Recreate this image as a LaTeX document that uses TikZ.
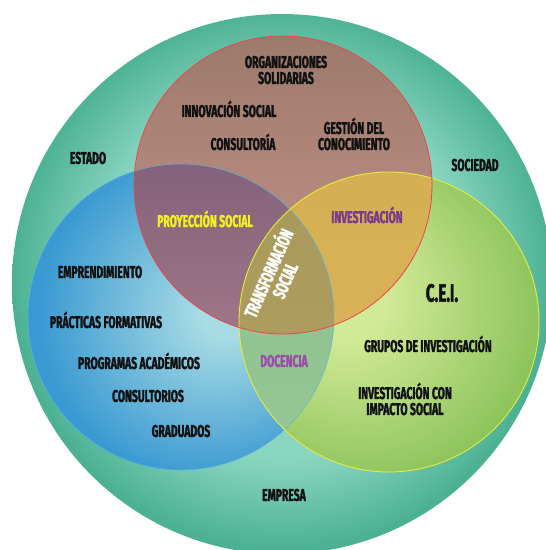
\documentclass[tikz,border=0pt]{standalone}
\usepackage{fontspec}
\newfontfamily\lblfont[FakeStretch=0.61, BoldFeatures={FakeBold=1.7}]{Fira Sans}
\definecolor{tealout}{HTML}{4CB192}
\definecolor{tealmid}{HTML}{88D5C0}
\definecolor{tealin}{HTML}{9CE0CC}
\definecolor{blueout}{HTML}{3A99D2}
\definecolor{bluein}{HTML}{A8DCE4}
\definecolor{greenin}{HTML}{D2EA96}
\definecolor{greenout}{HTML}{8AC259}
\definecolor{redtop}{HTML}{9C7A6B}
\definecolor{redbot}{HTML}{C9968D}
\definecolor{rbtop}{HTML}{84627B}
\definecolor{rbbot}{HTML}{B4868F}
\definecolor{rgtop}{HTML}{D4B052}
\definecolor{rgbot}{HTML}{DEB35E}
\definecolor{bgtop}{HTML}{8CBF8C}
\definecolor{bgbot}{HTML}{96C896}
\definecolor{tritop}{HTML}{A8985A}
\definecolor{tribot}{HTML}{B0A060}
\definecolor{redline}{HTML}{E8474A}
\definecolor{yelline}{HTML}{E4EC3C}
\definecolor{blueline}{HTML}{5CB3E0}
\definecolor{txtdark}{HTML}{111111}
\definecolor{yeltxt}{HTML}{F2F21E}
\definecolor{purtxt}{HTML}{7A3A8C}
\definecolor{doctxt}{HTML}{9C4CA8}
\pgfdeclareradialshading{bigsh}{\pgfpoint{0bp}{1bp}}{color(0bp)=(tealin); color(17bp)=(tealmid); color(25bp)=(tealout); color(50bp)=(tealout)}
\pgfdeclareradialshading{bluesh}{\pgfpoint{8bp}{1bp}}{color(0bp)=(bluein); color(4bp)=(bluein); color(27bp)=(blueout); color(50bp)=(blueout)}
\pgfdeclareradialshading{greensh}{\pgfpoint{-9bp}{5bp}}{color(0bp)=(greenin); color(7bp)=(greenin); color(30bp)=(greenout); color(50bp)=(greenout)}
\tikzset{
  tx/.style={font=\lblfont\bfseries\fontsize{17}{16}\selectfont, align=center, text=txtdark, inner sep=0pt},
}
\begin{document}
\begin{tikzpicture}[x=1pt,y=-1pt]
\useasboundingbox (0,0) rectangle (546,550);
\fill[white] (0,0) rectangle (546,550);
\clip (0,0) rectangle (546,550);
\coordinate (O) at (282,284);
\coordinate (R) at (283,185);
\coordinate (B) at (181,317);
\coordinate (G) at (389,322);
% base circles
\shade[shading=bigsh] (O) circle[radius=270pt];
\shade[shading=bluesh] (B) circle[radius=153pt];
\shade[shading=greensh] (G) circle[radius=150pt];
\shade[top color=redtop, bottom color=redbot] (R) circle[radius=149pt];
% intersections
\begin{scope}
  \clip (R) circle[radius=149pt];
  \shade[top color=rbtop, bottom color=rbbot] (B) circle[radius=153pt];
\end{scope}
\begin{scope}
  \clip (R) circle[radius=149pt];
  \shade[top color=rgtop, bottom color=rgbot] (G) circle[radius=150pt];
\end{scope}
\begin{scope}
  \clip (B) circle[radius=153pt];
  \shade[top color=bgtop, bottom color=bgbot] (G) circle[radius=150pt];
\end{scope}
\begin{scope}
  \clip (R) circle[radius=149pt];
  \clip (B) circle[radius=153pt];
  \shade[top color=tritop, bottom color=tribot] (G) circle[radius=150pt];
\end{scope}
% outlines
\draw[blueline, line width=0.5pt] (B) circle[radius=153pt];
\draw[yelline, line width=0.9pt] (G) circle[radius=150pt];
\draw[redline, line width=0.8pt] (R) circle[radius=149pt];
% labels
\node[tx] (org) at (286,70) {ORGANIZACIONES\\SOLIDARIAS};
\node[tx] (inno) at (229,109) {INNOVACIÓN SOCIAL};
\node[tx] (cons) at (243,142) {CONSULTORÍA};
\node[tx] (gest) at (354,134) {GESTIÓN DEL\\CONOCIMIENTO};
\node[tx] (estado) at (88,158) {ESTADO};
\node[tx] (soc) at (475,165) {SOCIEDAD};
\node[tx, text=yeltxt] (proy) at (205,219) {PROYECCIÓN SOCIAL};
\node[tx, text=purtxt] (inv) at (367,215) {INVESTIGACIÓN};
\node[tx, text=white, rotate=66, font=\lblfont\bfseries\fontsize{18.5}{18}\selectfont] (trans) at (275,276) {TRANSFORMACIÓN\\SOCIAL};
\node[tx] (empr) at (100,272) {EMPRENDIMIENTO};
\node[tx] (prac) at (106,320) {PRÁCTICAS FORMATIVAS};
\node[tx] (prog) at (139,361) {PROGRAMAS ACADÉMICOS};
\node[tx] (consul) at (148,396) {CONSULTORIOS};
\node[tx] (grad) at (181,431) {GRADUADOS};
\node[tx, text=doctxt] (doc) at (284,361) {DOCENCIA};
\node[tx, font=\lblfont\bfseries\fontsize{25}{25}\selectfont] (cei) at (442,293) {C.E.I.};
\node[tx] (grupos) at (428,344) {GRUPOS DE INVESTIGACIÓN};
\node[tx] (invcon) at (405,399) {INVESTIGACIÓN CON\\IMPACTO SOCIAL};
\node[tx] (empresa) at (284,495) {EMPRESA};
\end{tikzpicture}
\end{document}
